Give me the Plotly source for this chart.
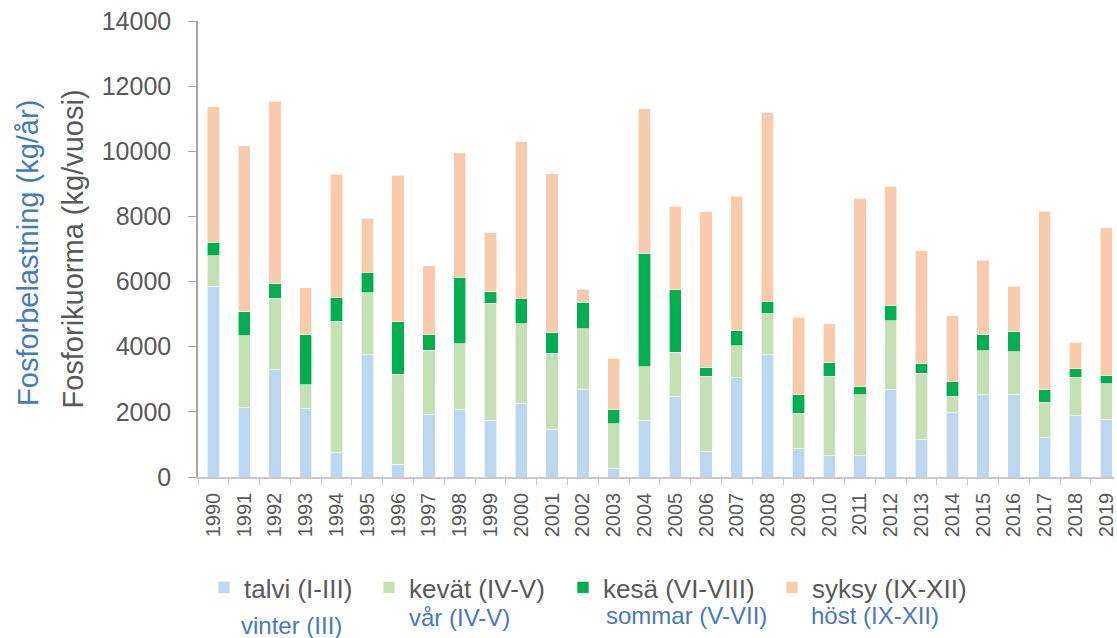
import plotly.graph_objects as go

years = [str(y) for y in range(1990, 2020)]

# cumulative tops (kg/vuosi)
talvi = [5850, 2120, 3300, 2100, 750, 3750, 390, 1910, 2070, 1740,
         2270, 1450, 2680, 260, 1740, 2480, 770, 3060, 3760, 860,
         650, 650, 2680, 1150, 1980, 2520, 2540, 1210, 1880, 1760]
kevat_top = [6800, 4330, 5490, 2830, 4780, 5660, 3150, 3890, 4090, 5340,
             4700, 3800, 4550, 1640, 3390, 3830, 3100, 4030, 5030, 1960,
             3090, 2520, 4790, 3180, 2480, 3880, 3840, 2290, 3070, 2870]
kesa_top = [7210, 5080, 5930, 4370, 5500, 6280, 4780, 4370, 6130, 5690,
            5470, 4430, 5370, 2080, 6870, 5750, 3370, 4500, 5380, 2530,
            3510, 2770, 5270, 3490, 2930, 4370, 4470, 2680, 3330, 3130]
total = [11370, 10170, 11530, 5810, 9290, 7940, 9270, 6480, 9960, 7510,
         10290, 9310, 5770, 3650, 11300, 8310, 8140, 8620, 11200, 4900,
         4700, 8560, 8930, 6940, 4950, 6650, 5860, 8160, 4130, 7650]

kevat = [b - a for a, b in zip(talvi, kevat_top)]
kesa = [b - a for a, b in zip(kevat_top, kesa_top)]
syksy = [b - a for a, b in zip(kesa_top, total)]

names_fi = ["talvi (I-III)", "kevät (IV-V)", "kesä (VI-VIII)", "syksy (IX-XII)"]
names_sv = ["vinter (III)", "vår (IV-V)", "sommar (V-VII)", "höst (IX-XII)"]
colors = ["#BDD7EE", "#C5E0B4", "#00B050", "#F8CBAD"]
series = [talvi, kevat, kesa, syksy]
y_ticks = list(range(0, 14001, 2000))

FONT = "Liberation Sans, Arial, sans-serif"
GREY = "#595959"
BLUE = "#4479C8"

W, H = 1117, 638
L, T, B = 198, 20.5, 161.3
plot_w = W - L
plot_h = H - T - B

legend_ids = ["legend", "legend2", "legend3", "legend4"]
legend_x = [204, 369, 563, 772]

fig = go.Figure()
for name, vals, col, lid in zip(names_fi, series, colors, legend_ids):
    fig.add_trace(go.Bar(
        x=years, y=vals, name=name, legend=lid,
        marker=dict(color=col, line=dict(color="white", width=0.6)),
    ))

def px_to_paper(px, py):
    return (px - L) / plot_w, (H - B - py) / plot_h

annotations = []
sv_pos = [(292, 625), (460, 617), (688, 615), (877, 615)]
for txt, (px, py) in zip(names_sv, sv_pos):
    xp, yp = px_to_paper(px, py)
    annotations.append(dict(text=txt, x=xp, y=yp, xref="paper", yref="paper",
                            showarrow=False, xanchor="center", yanchor="middle",
                            font=dict(family=FONT, size=24, color=BLUE)))
xp, yp = px_to_paper(28, 253)
annotations.append(dict(text="Fosforbelastning (kg/år)", x=xp, y=yp,
                        xref="paper", yref="paper", showarrow=False,
                        textangle=-90, xanchor="center", yanchor="middle",
                        font=dict(family=FONT, size=29, color=BLUE)))

legends = {}
for lid, lx in zip(legend_ids, legend_x):
    legends[lid] = dict(orientation="h", xref="container", yref="container",
                        x=lx / W, y=1 - 564 / H, xanchor="left", yanchor="top",
                        font=dict(family=FONT, size=26, color=GREY),
                        itemwidth=30, bgcolor="rgba(0,0,0,0)")

fig.update_layout(
    width=W, height=H,
    margin=dict(l=L, r=0, t=T, b=B, pad=0),
    barmode="stack", bargap=0.6,
    plot_bgcolor="white", paper_bgcolor="white",
    font=dict(family=FONT, color=GREY),
    showlegend=True,
    xaxis=dict(type="category", range=[-0.5, 29.25], showline=True,
               linecolor="#C8C8C8", linewidth=1.5, ticks="outside",
               tickson="boundaries", ticklen=6, tickcolor="#C8C8C8",
               tickangle=-90, ticklabelstandoff=6,
               tickfont=dict(family=FONT, size=20, color=GREY),
               showgrid=False, zeroline=False, fixedrange=True),
    yaxis=dict(range=[0, 14000], tickvals=y_ticks,
               ticktext=[str(v) for v in y_ticks],
               showline=True, linecolor="#A6A6A6", linewidth=1.5,
               ticks="outside", ticklen=8, tickcolor="#A6A6A6",
               ticklabelstandoff=12,
               tickfont=dict(family=FONT, size=25, color=GREY),
               showgrid=False, zeroline=False, fixedrange=True,
               title=dict(text="Fosforikuorma (kg/vuosi)", standoff=10,
                          font=dict(family=FONT, size=29, color=GREY))),
    annotations=annotations,
    **legends,
)

fig.write_html("out.html", config={"displayModeBar": False},
               post_script="document.body.style.margin='0';"
                           "document.body.style.overflow='hidden';")
